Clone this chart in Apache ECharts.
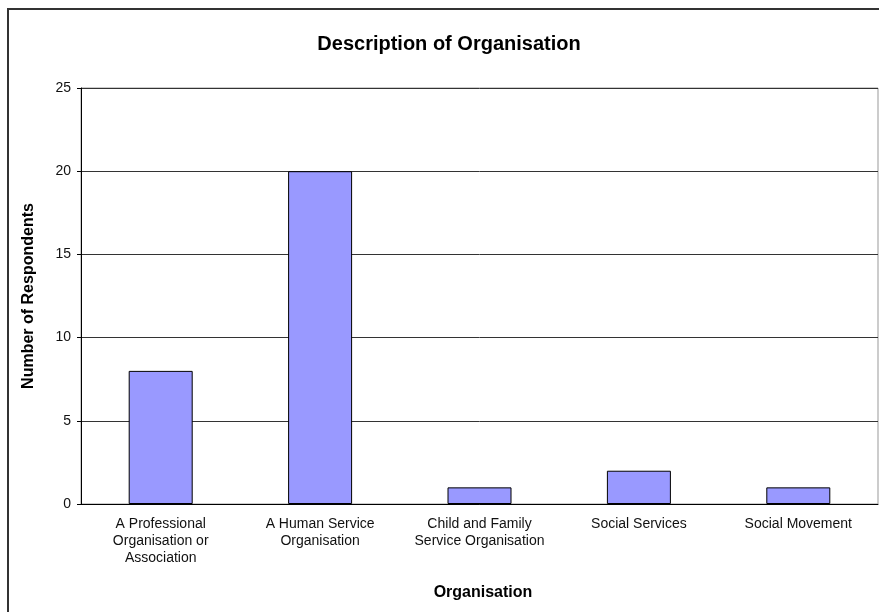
<!DOCTYPE html>
<html>
<head>
<meta charset="utf-8">
<script src="https://cdn.jsdelivr.net/npm/echarts@6/dist/echarts.min.js"></script>
<style>
  html, body { margin: 0; padding: 0; background: #fff; }
  #chart { width: 879px; height: 612px; }
</style>
</head>
<body>
<div id="chart"></div>
<script>
// 分类 / 数据
const categories = [
  'A Professional\nOrganisation or\nAssociation',
  'A Human Service\nOrganisation',
  'Child and Family\nService Organisation',
  'Social Services',
  'Social Movement'
];
const respondents = [8, 20, 1, 2, 1];
const yTicks = [0, 5, 10, 15, 20, 25];

const chart = echarts.init(document.getElementById('chart'));

const option = {
  animation: false,
  backgroundColor: '#fff',
  textStyle: { fontFamily: 'Liberation Sans, Arial, sans-serif' },
  title: [
    {
      text: 'Description of Organisation',
      left: 444,
      top: 29,
      textAlign: 'center',
      textStyle: { fontSize: 20, fontWeight: 'bold', color: '#000' }
    },
    {
      text: 'Organisation',
      left: 478,
      top: 580,
      textAlign: 'center',
      textStyle: { fontSize: 16, fontWeight: 'bold', color: '#000' }
    }
  ],
  // 外框
  graphic: [
    {
      type: 'rect',
      shape: { x: 8, y: 9, width: 900, height: 700 },
      style: { fill: 'none', stroke: '#333', lineWidth: 2 },
      silent: true
    },
    {
      type: 'rect',
      shape: { x: 81, y: 88, width: 797, height: 416 },
      style: { fill: 'none', stroke: '#999', lineWidth: 1 },
      silent: true,
      z: 0
    }
  ],
  grid: {
    left: 81,
    top: 88,
    width: 797,
    height: 416,
    containLabel: false
  },
  xAxis: {
    type: 'category',
    data: categories,
    axisLine: { show: true, lineStyle: { color: '#000', width: 1 } },
    axisTick: { show: false },
    axisLabel: {
      color: '#111',
      fontSize: 14,
      lineHeight: 17,
      margin: 12,
      interval: 0
    }
  },
  yAxis: {
    type: 'value',
    name: 'Number of Respondents',
    nameLocation: 'middle',
    nameGap: 44,
    nameRotate: 90,
    nameTextStyle: { fontSize: 16, fontWeight: 'bold', color: '#000' },
    min: yTicks[0],
    max: yTicks[yTicks.length - 1],
    interval: 5,
    axisLine: { show: true, lineStyle: { color: '#000', width: 1 } },
    axisTick: { show: true, length: 4, lineStyle: { color: '#000' } },
    axisLabel: { color: '#111', fontSize: 14, margin: 10 },
    splitLine: { show: true, lineStyle: { color: '#333', width: 1 } }
  },
  series: [
    {
      type: 'bar',
      data: respondents,
      barWidth: 64,
      itemStyle: {
        color: '#9999FF',
        borderColor: '#000',
        borderWidth: 1
      }
    }
  ]
};

chart.setOption(option);
</script>
</body>
</html>
